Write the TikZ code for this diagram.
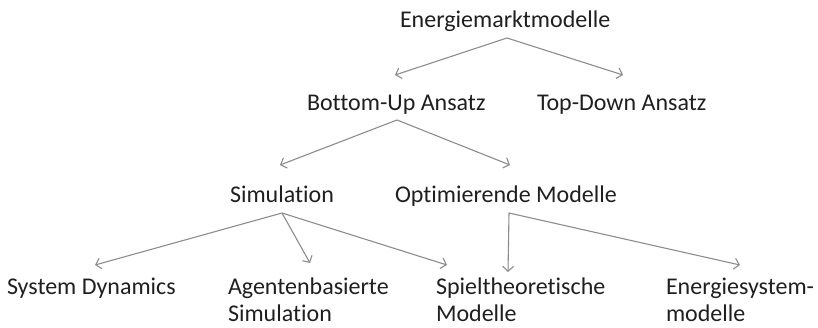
\documentclass[tikz,border=0pt]{standalone}
\usepackage{fontspec}
\setmainfont{Carlito}[Ligatures={NoCommon}]
\usetikzlibrary{arrows.meta}
\begin{document}
\begin{tikzpicture}[x=1pt,y=-1pt,
  lbl/.style={inner sep=0pt, outer sep=0pt, anchor=base west, align=left,
    text=black!88, font=\fontsize{24}{27}\selectfont},
  arr/.style={draw=black!45, line width=1.1pt,
    -{Straight Barb[length=5pt,width=11pt,line width=1.1pt]}}]
  \useasboundingbox (0,0) rectangle (818,327);

  % tree levels (two-line labels are placed by the baseline of their last line)
  \node[lbl] (em)  at (400,27)  {Energiemarktmodelle};
  \node[lbl] (bu)  at (307,110) {Bottom-Up Ansatz};
  \node[lbl] (td)  at (537,110) {Top-Down Ansatz};
  \node[lbl] (sim) at (230,202) {Simulation};
  \node[lbl] (opt) at (395,202) {Optimierende Modelle};
  \node[lbl] (sd)  at (7,294)   {System Dynamics};
  \node[lbl] (ag)  at (228,321) {Agentenbasierte\\Simulation};
  \node[lbl] (sp)  at (436,321) {Spieltheoretische\\Modelle};
  \node[lbl] (es)  at (666,321) {Energiesystem-\\modelle};

  % connectors
  \draw[arr] ([xshift=107pt,yshift=-11pt]em.base west) -- ([xshift=88pt,yshift=35pt]bu.base west);
  \draw[arr] ([xshift=107pt,yshift=-11pt]em.base west) -- ([xshift=86pt,yshift=35pt]td.base west);
  \draw[arr] ([xshift=90pt,yshift=-10pt]bu.base west) -- ([xshift=50pt,yshift=37pt]sim.base west);
  \draw[arr] ([xshift=90pt,yshift=-10pt]bu.base west) -- ([xshift=115pt,yshift=37pt]opt.base west);
  \draw[arr] ([xshift=52pt,yshift=-11pt]sim.base west) -- ([xshift=88pt,yshift=29pt]sd.base west);
  \draw[arr] ([xshift=52pt,yshift=-11pt]sim.base west) -- ([xshift=82pt,yshift=58pt]ag.base west);
  \draw[arr] ([xshift=52pt,yshift=-11pt]sim.base west) -- ([xshift=11pt,yshift=56pt]sp.base west);
  \draw[arr] ([xshift=114pt,yshift=-11pt]opt.base west) -- ([xshift=72pt,yshift=49pt]sp.base west);
  \draw[arr] ([xshift=114pt,yshift=-11pt]opt.base west) -- ([xshift=74pt,yshift=56pt]es.base west);
\end{tikzpicture}
\end{document}
